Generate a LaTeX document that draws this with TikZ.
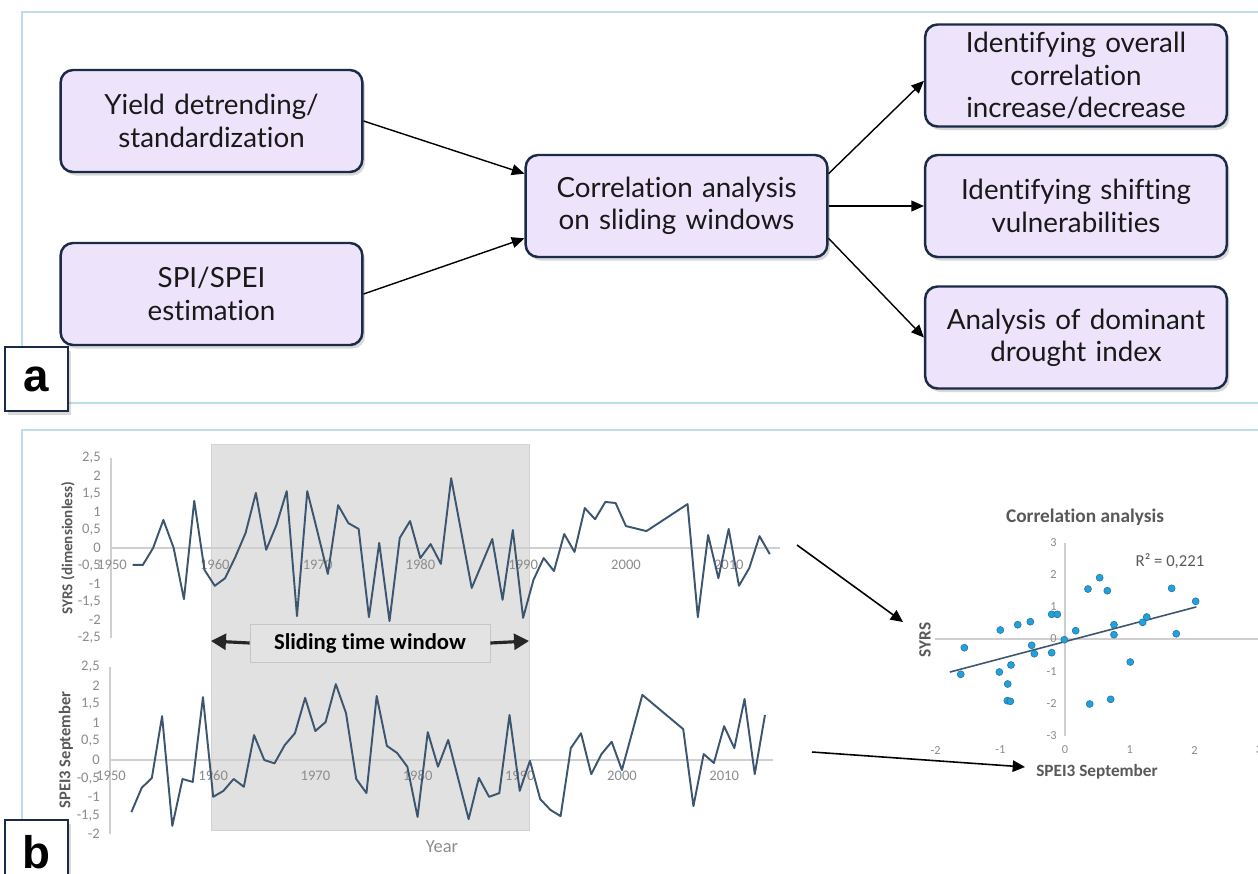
\documentclass[tikz,border=0pt]{standalone}
\usepackage{fontspec}
\setmainfont[Ligatures={NoCommon}]{Carlito}
\newfontfamily\boxfont[Ligatures={NoCommon}]{Lato}
\newfontfamily\labfont{Liberation Sans}
\usepackage{xcolor}
\usepackage{tikz}
\usetikzlibrary{arrows.meta,shadows}
\definecolor{framecol}{HTML}{BDDDE8}
\definecolor{boxfill}{HTML}{EDE4FB}
\definecolor{boxline}{HTML}{1B2A47}
\definecolor{serieslc}{HTML}{3D5670}
\definecolor{axisgray}{HTML}{CFCFCF}
\definecolor{tickgray}{HTML}{8C8C8C}
\definecolor{titlegray}{HTML}{595959}
\definecolor{windowgray}{HTML}{E1E1E1}
\definecolor{dotblue}{HTML}{1FA2DD}
\definecolor{dotline}{HTML}{2A6C95}

\begin{document}
\begin{tikzpicture}[x=0.02cm, y=-0.02cm,
    stepbox/.style={draw=boxline, line width=1.4pt, fill=boxfill, rounded corners=7pt,
        minimum width=5.94cm, minimum height=2.04cm, text width=5.8cm, align=center,
        font=\boxfont\fontsize{15.8}{18.4}\selectfont, text=black!90,
        drop shadow={shadow xshift=1.5pt, shadow yshift=-2pt, opacity=0.3}},
    panellab/.style={draw=boxline, line width=0.8pt, fill=white, minimum width=1.26cm,
        minimum height=1.28cm, font=\labfont\bfseries\fontsize{26}{26}\selectfont,
        drop shadow={shadow xshift=1.5pt, shadow yshift=-2pt, opacity=0.3}},
    flowarrow/.style={line width=0.8pt, -{Triangle[length=7.2pt, width=6.2pt]}},
    bigarrow/.style={line width=1.8pt, -{Triangle[length=8.5pt, width=9pt]}, black!85},
    linkarrow/.style={line width=0.9pt, -{Triangle[length=7pt, width=6.5pt]}},
    series/.style={serieslc, line width=1.1pt, line join=round},
    ticklab/.style={text=tickgray, font=\fontsize{8.3}{9}\selectfont, inner sep=0pt},
    axtitle/.style={text=titlegray, font=\bfseries\fontsize{9}{10}\selectfont, inner sep=0pt}]

    \useasboundingbox (0,0) rectangle (1258,873);
    \fill[white] (0,0) rectangle (1258,873);

    % ========== Panel a: workflow ==========
    \draw[framecol, line width=0.6pt] (1258,12) -- (22,12) -- (22,403) -- (1258,403);

    \node[stepbox] (yield) at (211.5,121) {Yield detrending/\\standardization};
    \node[stepbox] (spi) at (211.5,294) {SPI/SPEI\\estimation};
    \node[stepbox] (corr) at (676.5,206) {Correlation analysis\\on sliding windows};
    \node[stepbox] (overall) at (1076,75.5) {Identifying overall\\correlation\\increase/decrease};
    \node[stepbox] (vuln) at (1076,206) {Identifying shifting\\vulnerabilities};
    \node[stepbox] (dom) at (1076,337.5) {Analysis of dominant\\drought index};

    % inputs -> analysis
    \draw[flowarrow] (yield.east) -- (corr.168);
    \draw[flowarrow] (spi.east) -- (corr.192);

    % analysis -> outcomes
    \draw[flowarrow] (corr.12) -- (overall.182);
    \draw[flowarrow] (corr.east) -- (vuln.west);
    \draw[flowarrow] (corr.348) -- (dom.west);

    \node[panellab] (laba) at (36.5,379) {a};

    % ========== Panel b: sliding window example ==========
    \draw[framecol, line width=0.6pt] (1258,430) -- (22,430) -- (22,873);

    % window
    \draw[gray!35, fill=windowgray] (211,444) rectangle (529,830);
    \coordinate (winl) at (211,641);
    \coordinate (winr) at (529,641);

    % SYRS chart
    \draw[axisgray, line width=0.8pt] (111,458) -- (111,638);
    \draw[axisgray, line width=0.8pt] (111,548) -- (780,548);
    \foreach \y/\t in {458/{2,5},476/2,494/{1,5},512/1,530/{0,5},548/0,566/{-0,5},584/-1,602/{-1,5},620/-2,638/{-2,5}}
        \node[ticklab, anchor=east] at (101,\y) {\t};
    \foreach \k/\yr in {0/1950,1/1960,2/1970,3/1980,4/1990,5/2000,6/2010}
        \node[ticklab] at (112+\k*102.8,565) {\yr};
    \begin{scope}[shift={(112,548)}, x=0.2056cm, y=0.72cm]
        \draw[series] plot coordinates {(2,-0.47) (3,-0.47) (4,0) (5,0.78) (6,0) (7,-1.42) (8,1.31) (9,-0.61)
            (10,-1.05) (11,-0.84) (12,-0.25) (13,0.42) (14,1.53) (15,-0.05) (16,0.64) (17,1.58) (18,-1.89) (19,1.58)
            (20,0.44) (21,-0.72) (22,1.19) (23,0.69) (24,0.53) (25,-1.92) (26,0.14) (27,-2.03) (28,0.28) (29,0.75)
            (30,-0.28) (31,0.11) (32,-0.44) (33,1.94) (35,-1.11) (37,0.25) (38,-1.44) (39,0.5)
            (40,-1.94) (41,-0.89) (42,-0.28) (43,-0.64) (44,0.39) (45,-0.11) (46,1.11) (47,0.8) (48,1.28) (49,1.25)
            (50,0.61) (52,0.47) (56,1.22) (57,-1.92) (58,0.36) (59,-0.84)
            (60,0.53) (61,-1.05) (62,-0.56) (63,0.33) (64,-0.17)};
    \end{scope}
    \node[axtitle, rotate=90, font=\bfseries\fontsize{8.6}{10}\selectfont] (syrsttl) at (68,548) {SYRS (dimensionless)};

    % SPEI3 chart
    \draw[axisgray, line width=0.8pt] (110,667) -- (110,834);
    \draw[axisgray, line width=0.8pt] (110,760) -- (773,760);
    \foreach \y/\t in {667/{2,5},685.6/2,704/{1,5},723/1,741/{0,5},760/0,778.6/{-0,5},797/-1,816/{-1,5},834/-2}
        \node[ticklab, anchor=east] at (100,\y) {\t};
    \foreach \k/\yr in {0/1950,1/1960,2/1970,3/1980,4/1990,5/2000,6/2010}
        \node[ticklab] at (111+\k*102.2,776) {\yr};
    \begin{scope}[shift={(111,760)}, x=0.2044cm, y=0.744cm]
        \draw[series] plot coordinates {(2,-1.40) (3,-0.75) (4,-0.48) (5,1.18) (6,-1.77) (7,-0.51) (8,-0.59) (9,1.69)
            (10,-0.99) (11,-0.83) (12,-0.51) (13,-0.72) (14,0.67) (15,0) (16,-0.09) (17,0.4) (18,0.72) (19,1.67)
            (20,0.78) (21,1.02) (22,2.04) (23,1.26) (24,-0.51) (25,-0.89) (26,1.72) (27,0.38) (28,0.19) (29,-0.18)
            (30,-1.53) (31,0.75) (32,-0.18) (33,0.54) (35,-1.59) (36,-0.48) (37,-0.99) (38,-0.89) (39,1.21)
            (40,-0.83) (41,-0.02) (42,-1.05) (43,-1.34) (44,-1.51) (45,0.32) (46,0.72) (47,-0.38) (48,0.16) (49,0.49)
            (50,-0.27) (52,1.75) (56,0.83) (57,-1.24) (58,0.16) (59,-0.08)
            (60,0.91) (61,0.32) (62,1.64) (63,-0.38) (64,1.21)};
    \end{scope}
    \node[axtitle, rotate=90, font=\bfseries\fontsize{9.4}{10}\selectfont] (speittl) at (66,750) {SPEI3 September};
    \node[text=tickgray, font=\fontsize{10.5}{12}\selectfont] (year) at (442,847) {Year};

    % sliding window label
    \node[draw=gray!45, fill=black!11, minimum width=4.8cm, minimum height=0.76cm,
        font=\bfseries\fontsize{12.9}{14}\selectfont] (slide) at (370,643) {Sliding time window};
    \draw[bigarrow] (slide.west) -- (winl);
    \draw[bigarrow] (slide.east) -- (winr);

    % ========== Scatter plot ==========
    \node[text=titlegray, font=\bfseries\fontsize{11}{12}\selectfont] (sctitle) at (1085,517) {Correlation analysis};
    \draw[axisgray, line width=0.8pt] (935,639) -- (1258,639);
    \draw[axisgray, line width=0.8pt] (1065,543) -- (1065,736);
    \foreach \v in {-2,...,3}
        \node[ticklab, font=\fontsize{7}{8}\selectfont] at (1065+\v*64.7,750) {\v};
    \foreach \v in {-3,...,3}
        \node[ticklab, font=\fontsize{7}{8}\selectfont, anchor=east] at (1057,639-\v*32.1) {\v};
    \begin{scope}[shift={(1065,639)}, x=1.294cm, y=0.642cm]
        \draw[serieslc, line width=0.9pt] (-1.78,-1.03) -- (2.03,1.0);
        \foreach \a/\b in {-1.556/-0.271, -1.612/-1.100, -1.000/0.280, -1.015/-1.028, -0.731/0.445,
            -0.835/-0.810, -0.886/-1.402, -0.892/-1.922, -0.845/-1.941, -0.536/0.539, -0.515/-0.196,
            -0.474/-0.458, -0.206/0.769, -0.119/0.769, -0.206/-0.427, -0.011/-0.022, 0.165/0.259,
            0.355/1.558, 0.536/1.910, 0.654/1.505, 0.382/-2.025, 0.706/-1.879, 0.757/0.445, 0.757/0.134,
            1.009/-0.717, 1.201/0.520, 1.263/0.685, 1.649/1.579, 1.720/0.165, 2.020/1.174}
            \filldraw[fill=dotblue, draw=dotline, line width=0.3pt] (\a,\b) circle (2pt);
    \end{scope}
    \node[text=titlegray, font=\fontsize{9.5}{11}\selectfont] (rsq) at (1170,561) {R² = 0,221};
    \node[axtitle, rotate=90, font=\bfseries\fontsize{9.8}{11}\selectfont] (syrs) at (925,640) {SYRS};
    \node[axtitle, font=\bfseries\fontsize{9.8}{11}\selectfont] (spei) at (1097,772) {SPEI3 September};

    % chart -> scatter
    \coordinate (fromtop) at (797,545);
    \coordinate (totop) at (903,622);
    \coordinate (frombot) at (812,752);
    \coordinate (tobot) at (1025,767);
    \draw[linkarrow] (fromtop) -- (totop);
    \draw[linkarrow] (frombot) -- (tobot);

    \node[panellab] (labb) at (36.5,852) {b};
\end{tikzpicture}
\end{document}
